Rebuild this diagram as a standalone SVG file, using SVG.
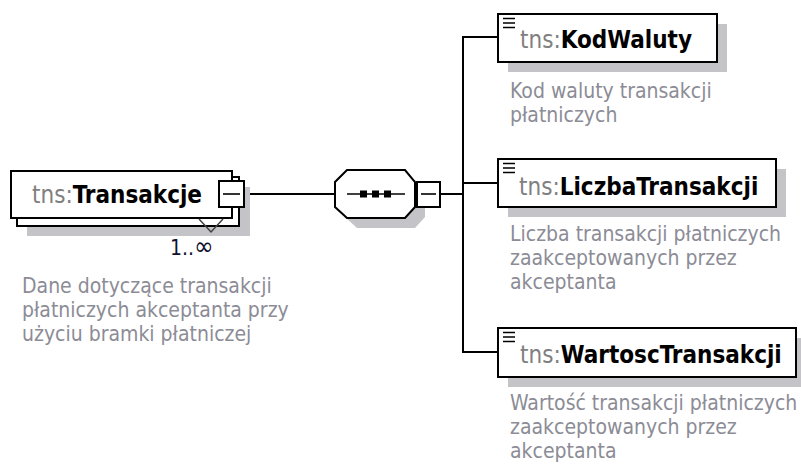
<svg xmlns="http://www.w3.org/2000/svg" width="801" height="465" viewBox="0 0 801 465">
<style>
.box{fill:#fff;stroke:#000;stroke-width:2}
.shadow{fill:#c4c4c8;stroke:none}
.ln{fill:none;stroke:#000;stroke-width:2}
.title{font-family:"DejaVu Sans Condensed","DejaVu Sans",sans-serif;font-stretch:condensed;font-size:24px}
.ns{fill:#808080}
.nm{fill:#000;font-weight:bold}
.desc{font-family:"DejaVu Sans Condensed","DejaVu Sans",sans-serif;font-stretch:condensed;font-size:21px;fill:#8c8c96}
.icon{stroke:#000;stroke-width:1.6}
</style>
<rect width="801" height="465" fill="#fff"/>
<g id="connectors">
<line class="ln" x1="245" y1="194" x2="335" y2="194"/>
<line class="ln" x1="440" y1="194" x2="463" y2="194"/>
<line class="ln" x1="463" y1="37" x2="463" y2="353"/>
<line class="ln" x1="462" y1="37" x2="498" y2="37"/>
<line class="ln" x1="462" y1="183" x2="498" y2="183"/>
<line class="ln" x1="462" y1="352" x2="498" y2="352"/>
</g>
<g id="Transakcje">
<rect class="shadow" x="27" y="187" width="223" height="49"/>
<rect class="box" x="17" y="177" width="222" height="49"/>
<rect class="box" x="11" y="171" width="221" height="47"/>
<polyline points="199,219 211,232 223,219" fill="none" stroke="#404040" stroke-width="1.5"/>
<rect class="box" x="219" y="181" width="25" height="26"/>
<line x1="223" y1="194" x2="240" y2="194" stroke="#000" stroke-width="1.6"/>
<text class="title" x="32" y="203"><tspan class="ns">tns:</tspan><tspan class="nm">Transakcje</tspan></text>
<text x="170" y="255" font-family="DejaVu Sans Condensed, DejaVu Sans, sans-serif" font-stretch="condensed" fill="#101030"><tspan font-size="21">1..</tspan><tspan font-size="26">∞</tspan></text>
<text class="desc"><tspan x="22" y="293">Dane dotyczące transakcji</tspan><tspan x="22" y="317">płatniczych akceptanta przy</tspan><tspan x="22" y="341">użyciu bramki płatniczej</tspan></text>
</g>
<g id="sequence">
<polygon class="shadow" points="357,180 415,180 425,192 425,217 415,228 357,228 345,217 345,192"/>
<polygon class="box" points="347,170 405,170 415,182 415,207 405,218 347,218 335,207 335,182"/>
<line x1="347" y1="194" x2="405" y2="194" stroke="#000" stroke-width="1.5"/>
<rect x="360" y="190.5" width="7" height="7" fill="#000"/>
<rect x="372" y="190.5" width="7" height="7" fill="#000"/>
<rect x="384" y="190.5" width="7" height="7" fill="#000"/>
<rect class="box" x="417" y="182" width="23" height="25"/>
<line x1="421" y1="194" x2="436" y2="194" stroke="#000" stroke-width="1.6"/>
</g>
<g id="KodWaluty">
<rect class="shadow" x="508" y="24" width="219" height="48"/>
<rect class="box" x="498" y="14" width="219" height="48"/>
<path class="icon" d="M503 18.5H515M503 23H515M503 27.5H515"/>
<text class="title" x="520" y="48"><tspan class="ns">tns:</tspan><tspan class="nm">KodWaluty</tspan></text>
<text class="desc"><tspan x="510" y="98">Kod waluty transakcji</tspan><tspan x="510" y="122">płatniczych</tspan></text>
</g>
<g id="LiczbaTransakcji">
<rect class="shadow" x="508" y="169" width="278" height="48"/>
<rect class="box" x="498" y="159" width="278" height="48"/>
<path class="icon" d="M503 163.5H515M503 168H515M503 172.5H515"/>
<text class="title" x="519" y="195"><tspan class="ns">tns:</tspan><tspan class="nm">LiczbaTransakcji</tspan></text>
<text class="desc"><tspan x="510" y="241">Liczba transakcji płatniczych</tspan><tspan x="510" y="265">zaakceptowanych przez</tspan><tspan x="510" y="289">akceptanta</tspan></text>
</g>
<g id="WartoscTransakcji">
<rect class="shadow" x="508" y="338" width="298" height="49"/>
<rect class="box" x="498" y="328" width="298" height="49"/>
<path class="icon" d="M503 332.5H515M503 337H515M503 341.5H515"/>
<text class="title" x="520" y="363"><tspan class="ns">tns:</tspan><tspan class="nm">WartoscTransakcji</tspan></text>
<text class="desc"><tspan x="510" y="410">Wartość transakcji płatniczych</tspan><tspan x="510" y="434">zaakceptowanych przez</tspan><tspan x="510" y="458">akceptanta</tspan></text>
</g>
</svg>
